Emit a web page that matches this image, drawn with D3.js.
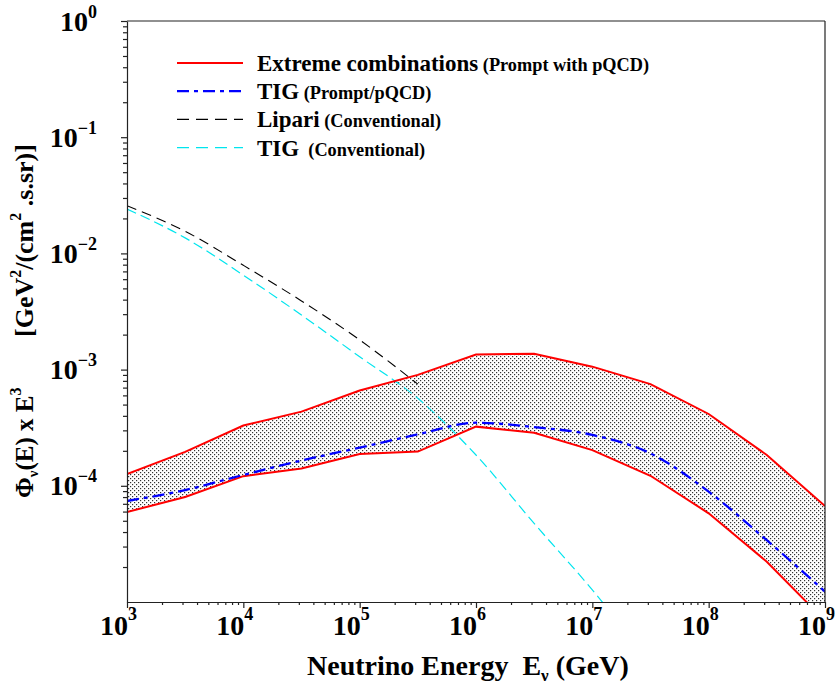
<!DOCTYPE html>
<html><head><meta charset="utf-8">
<script src="https://cdn.jsdelivr.net/npm/d3@7"></script>
<style>
html,body{margin:0;padding:0;background:#fff;}
svg text{font-family:"Liberation Serif","Times New Roman",serif;font-weight:bold;fill:#000;}
</style></head>
<body>
<script>
// ---- data ----
const energies = [1e3, 3.16e3, 1e4, 3.16e4, 1e5, 3.16e5, 1e6, 3.16e6, 1e7, 3.16e7, 1e8, 3.16e8, 1e9];
const extremeUpper = [1.26e-4, 1.96e-4, 3.3e-4, 4.35e-4, 6.6e-4, 9.0e-4, 1.35e-3, 1.37e-3, 1.06e-3, 7.5e-4, 4.15e-4, 1.84e-4, 6.7e-5];
const extremeLower = [5.95e-5, 8.0e-5, 1.21e-4, 1.41e-4, 1.88e-4, 1.97e-4, 3.23e-4, 2.86e-4, 2.03e-4, 1.22e-4, 5.8e-5, 2.22e-5, 6.9e-6];
const tigPrompt = [7.4e-5, 9.2e-5, 1.24e-4, 1.65e-4, 2.13e-4, 2.77e-4, 3.49e-4, 3.2e-4, 2.74e-4, 1.9e-4, 8.9e-5, 3.4e-5, 1.23e-5];
const lipariConv = [2.57e-2, 1.55e-2, 7.9e-3, 3.9e-3, 1.8e-3, 7.5e-4];
const tigConv = [2.41e-2, 1.36e-2, 6.5e-3, 2.95e-3, 1.29e-3, 5.66e-4, 1.84e-4, 4.75e-5, 1.27e-5, 3.0e-6];
const xTickExps = [3, 4, 5, 6, 7, 8, 9];
const yTickExps = [0, -1, -2, -3, -4];
const legendMain = ["Extreme combinations", "TIG", "Lipari", "TIG"];
const legendSub = [" (Prompt with pQCD)", " (Prompt/pQCD)", " (Conventional)", "  (Conventional)"];

// ---- layout ----
const W = 840, H = 685;
const L = 127, R = 825, T = 21, B = 602;
const svg = d3.select("body").append("svg").attr("width", W).attr("height", H);

const x = d3.scaleLog().domain([1e3, 1e9]).range([L, R]);
const y = d3.scaleLog().domain([1e-5, 1]).range([B, T]);

const defs = svg.append("defs");
defs.append("clipPath").attr("id", "clip").append("rect")
  .attr("x", L).attr("y", T).attr("width", R - L).attr("height", B - T);
const pat = defs.append("pattern").attr("id", "dots").attr("width", 4).attr("height", 4)
  .attr("patternUnits", "userSpaceOnUse");
pat.append("rect").attr("width", 4).attr("height", 4).attr("fill", "#fff");
pat.append("rect").attr("x", 0).attr("y", 0).attr("width", 1.2).attr("height", 1.2).attr("fill", "#333");
pat.append("rect").attr("x", 2).attr("y", 2).attr("width", 1.2).attr("height", 1.2).attr("fill", "#333");

const plot = svg.append("g").attr("clip-path", "url(#clip)");

// band
const band = energies.map((e, i) => ({e, lo: extremeLower[i], hi: extremeUpper[i]}));
plot.append("path").datum(band)
  .attr("d", d3.area().x(d => x(d.e)).y0(d => y(d.lo)).y1(d => y(d.hi)))
  .attr("fill", "url(#dots)");

const lineLin = d3.line().x(d => x(d[0])).y(d => y(d[1]));
const lineSmooth = d3.line().x(d => x(d[0])).y(d => y(d[1])).curve(d3.curveMonotoneX);
const pairs = arr => arr.map((v, i) => [energies[i], v]);

// conventional
plot.append("path").datum(pairs(tigConv)).attr("d", lineSmooth)
  .attr("fill", "none").attr("stroke", "#00e5ee").attr("stroke-width", 1.2).attr("stroke-dasharray", "10,5");
plot.append("path").datum(pairs(lipariConv)).attr("d", lineSmooth)
  .attr("fill", "none").attr("stroke", "#000").attr("stroke-width", 1.1).attr("stroke-dasharray", "10,6");

// extreme lines
plot.append("path").datum(pairs(extremeUpper)).attr("d", lineLin)
  .attr("fill", "none").attr("stroke", "#ff0000").attr("stroke-width", 2);
plot.append("path").datum(pairs(extremeLower)).attr("d", lineLin)
  .attr("fill", "none").attr("stroke", "#ff0000").attr("stroke-width", 2);
// TIG prompt
plot.append("path").datum(pairs(tigPrompt)).attr("d", lineSmooth)
  .attr("fill", "none").attr("stroke", "#0000ff").attr("stroke-width", 2.3).attr("stroke-dasharray", "12,5,4,5");

// ---- axes ----
const minorX = [];
for (let p = 3; p < 9; p++) for (let k = 2; k <= 9; k++) minorX.push(k * Math.pow(10, p));
const minorY = [];
for (let p = -5; p < 0; p++) for (let k = 2; k <= 9; k++) minorY.push(k * Math.pow(10, p));

const ax = svg.append("g").attr("transform", `translate(0,${B})`);
ax.call(d3.axisBottom(x).tickValues(xTickExps.map(p => Math.pow(10, p))).tickFormat("").tickSize(6).tickSizeOuter(0));
const axm = svg.append("g").attr("transform", `translate(0,${B})`);
axm.call(d3.axisBottom(x).tickValues(minorX).tickFormat("").tickSize(3).tickSizeOuter(0));
axm.select(".domain").remove();

const ay = svg.append("g").attr("transform", `translate(${L},0)`);
ay.call(d3.axisLeft(y).tickValues(yTickExps.map(p => Math.pow(10, p))).tickFormat("").tickSize(6).tickSizeOuter(0));
const aym = svg.append("g").attr("transform", `translate(${L},0)`);
aym.call(d3.axisLeft(y).tickValues(minorY).tickFormat("").tickSize(4).tickSizeOuter(0));
aym.select(".domain").remove();
svg.selectAll(".domain, .tick line").attr("stroke", "#222").attr("stroke-width", 1.2);

// top & right border
svg.append("line").attr("x1", L).attr("x2", R).attr("y1", T).attr("y2", T).attr("stroke", "#222").attr("stroke-width", 1.2);
svg.append("line").attr("x1", R).attr("x2", R).attr("y1", T).attr("y2", B).attr("stroke", "#222").attr("stroke-width", 1.2);

// x tick labels: "10" ends at the tick, exponent follows
xTickExps.forEach(p => {
  const t = svg.append("text").attr("y", 635).attr("text-anchor", "start");
  const base = t.append("tspan").attr("font-size", 28).text("10");
  t.append("tspan").attr("font-size", 18).attr("dy", -15).text(String(p));
  const w = base.node().getComputedTextLength();
  t.attr("x", x(Math.pow(10, p)) - w + 1);
});
// y tick labels, right edge near x=97
yTickExps.forEach(p => {
  const t = svg.append("text").attr("y", y(Math.pow(10, p)) + 9.5).attr("text-anchor", "start");
  t.append("tspan").attr("font-size", 28).text("10");
  t.append("tspan").attr("font-size", 18).attr("dy", -13).text(p === 0 ? "0" : "\u2212" + Math.abs(p));
  const w = t.node().getComputedTextLength();
  t.attr("x", 97 - w);
});

// x label
const xl = svg.append("text").attr("x", 307).attr("y", 675).attr("font-size", 28);
xl.append("tspan").text("Neutrino Energy\u00a0\u00a0E");
xl.append("tspan").attr("font-size", 17).attr("dy", 6).text("\u03bd");
xl.append("tspan").attr("dy", -6).text(" (GeV)");

// y label
const yl1 = svg.append("text").attr("transform", "translate(33,498) rotate(-90)").attr("font-size", 25);
yl1.append("tspan").text("\u03a6");
yl1.append("tspan").attr("font-size", 15).attr("dy", 5).text("\u03bd");
yl1.append("tspan").attr("dy", -5).text("(E) x E");
yl1.append("tspan").attr("font-size", 16).attr("dy", -12).text("3");
const yl2 = svg.append("text").attr("transform", "translate(33,337) rotate(-90)").attr("font-size", 26);
yl2.append("tspan").text("[GeV");
yl2.append("tspan").attr("font-size", 16).attr("dy", -12).text("2");
yl2.append("tspan").attr("dy", 12).text("/(cm");
yl2.append("tspan").attr("font-size", 16).attr("dy", -12).text("2");
yl2.append("tspan").attr("dy", 12).text("\u00a0.s.sr)]");

// legend
const legStyles = [
  {stroke: "#ff0000", w: 2, dash: null},
  {stroke: "#0000ff", w: 2.3, dash: "12,5,4,5"},
  {stroke: "#000", w: 1.1, dash: "12,7"},
  {stroke: "#00e5ee", w: 1.2, dash: "12,7"}
];
legendMain.forEach((m, i) => {
  const yy = 63 + i * 28.2;
  const s = legStyles[i];
  const ln = svg.append("line").attr("x1", 177).attr("x2", 243).attr("y1", yy).attr("y2", yy)
    .attr("stroke", s.stroke).attr("stroke-width", s.w);
  if (s.dash) ln.attr("stroke-dasharray", s.dash);
  const t = svg.append("text").attr("x", 257).attr("y", yy + 8).attr("font-size", 23);
  t.append("tspan").text(m);
  t.append("tspan").attr("font-size", 18.3).text(legendSub[i].replace(/ /g, "\u00a0"));
});
</script>
</body></html>
